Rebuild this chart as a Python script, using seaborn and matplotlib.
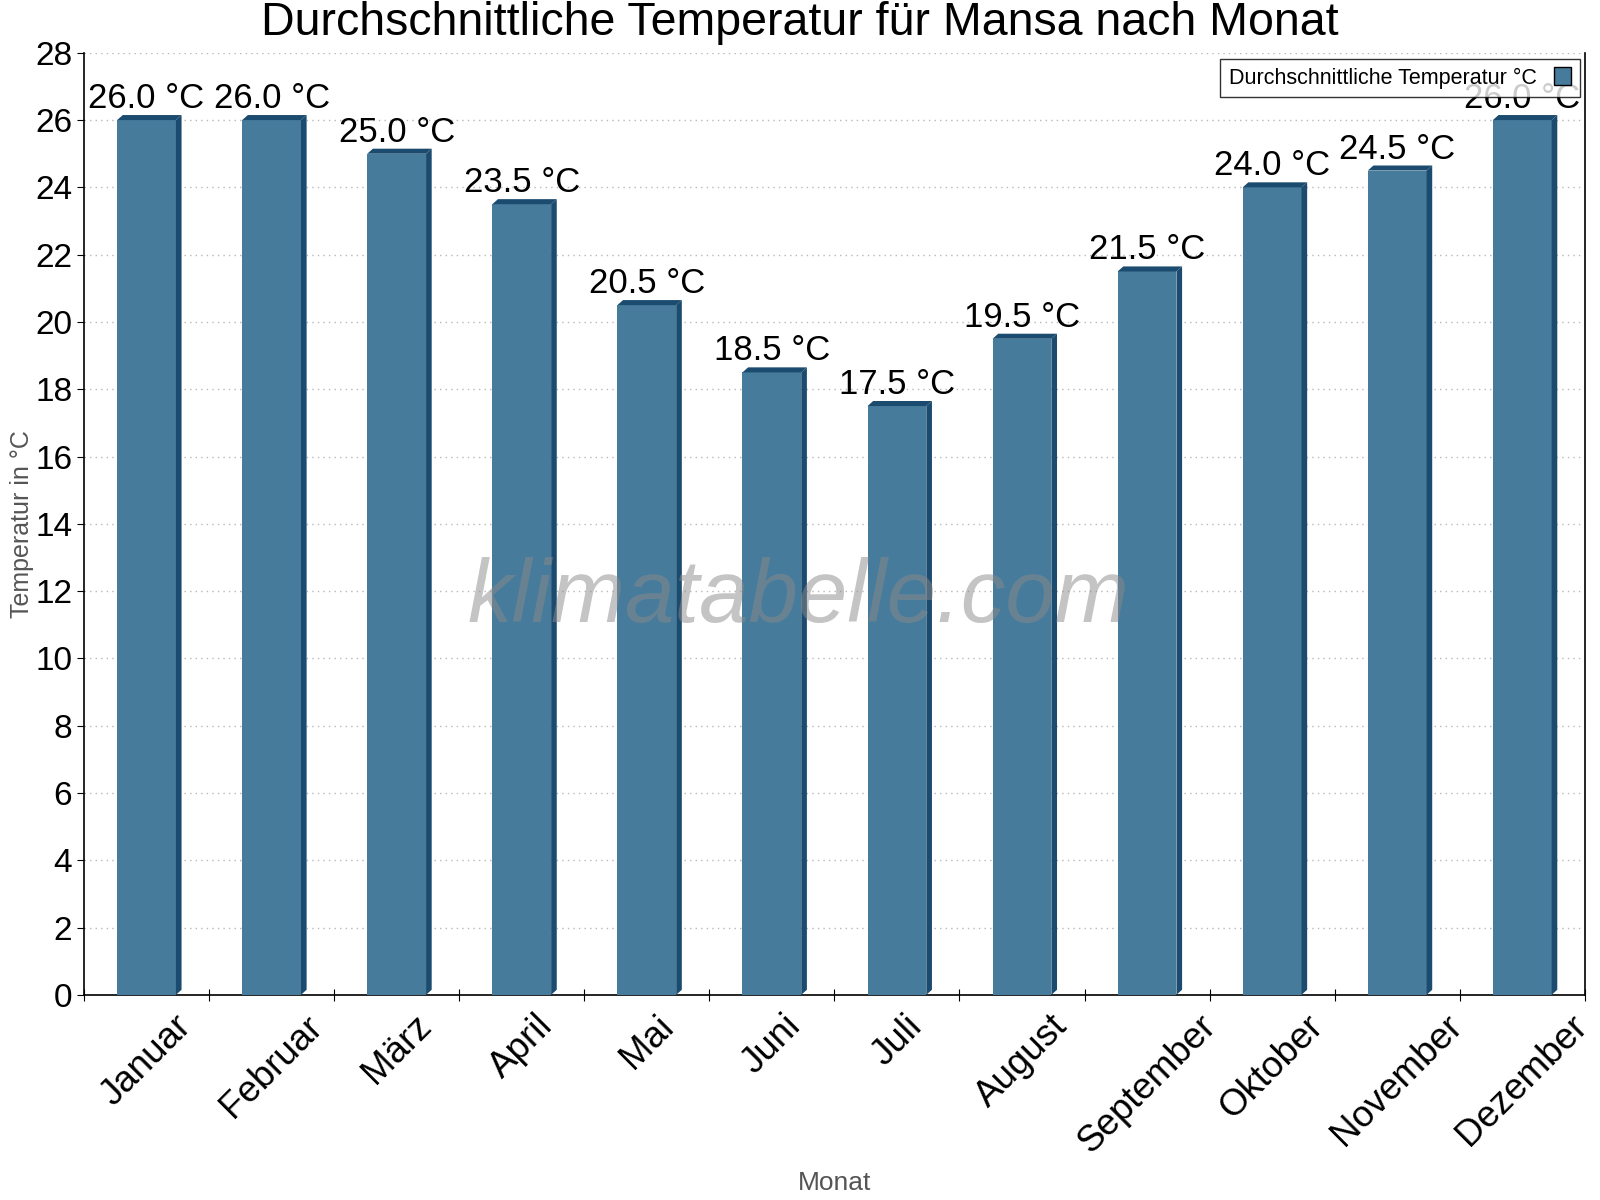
import numpy as np
import pandas as pd
import seaborn as sns
from matplotlib import pyplot as plt
from matplotlib.patches import Polygon

months = ["Januar", "Februar", "März", "April", "Mai", "Juni", "Juli",
          "August", "September", "Oktober", "November", "Dezember"]
temps = [26.0, 26.0, 25.0, 23.5, 20.5, 18.5, 17.5, 19.5, 21.5, 24.0, 24.5, 26.0]
yticks = list(range(0, 30, 2))

front = "#467b9c"
side = "#1b4b6e"

sns.set_style("white", rc={"text.color": "black", "xtick.color": "black",
                           "ytick.color": "black", "axes.labelcolor": "#555555"})
plt.rcParams['font.family'] = ['Liberation Sans', 'DejaVu Sans']

df = pd.DataFrame({"Monat": months, "Temperatur": temps})

fig = plt.figure(figsize=(16, 12), dpi=100)
ax = fig.add_axes([0.0525, 0.171, 0.938, 0.785])

sns.barplot(data=df, x="Monat", y="Temperatur", color=front, saturation=1,
            width=0.47, ax=ax, label="Durchschnittliche Temperatur °C",
            edgecolor="none", zorder=3)

# fake 3d depth on each bar
dx, dy = 0.045, 0.15
for p in ax.patches:
    x0, w, h = p.get_x(), p.get_width(), p.get_height()
    ax.add_patch(Polygon([(x0 + w, 0), (x0 + w, h), (x0 + w + dx, h + dy),
                          (x0 + w + dx, dy)], closed=True, color=side, zorder=3, lw=0))
    ax.add_patch(Polygon([(x0, h), (x0 + dx, h + dy), (x0 + w + dx, h + dy),
                          (x0 + w, h)], closed=True, color=side, zorder=3, lw=0))
    ax.annotate(f"{h:.1f} °C", (x0 + w / 2, h + dy), xytext=(0, 0),
                textcoords="offset points", ha="center", va="bottom",
                fontsize=25, color="black", zorder=4)

ax.set_xlim(-0.5, 11.5)
ax.set_ylim(0, 28)
ax.set_yticks(yticks)
ax.tick_params(axis="y", labelsize=24, length=5, direction="out", left=True,
               labelcolor="black")

# tick marks between the months, names centred under the bars
ax.set_xticks(np.arange(-0.5, 12, 1.0))
ax.set_xticklabels([])
ax.set_xticks(range(len(months)), minor=True)
ax.set_xticklabels(months, minor=True, rotation=45, ha="center", va="top",
                   fontsize=26.5)
ax.tick_params(axis="x", which="major", length=9, direction="inout", bottom=True)
ax.tick_params(axis="x", which="minor", length=0, pad=10, bottom=True,
               labelcolor="black")

ax.grid(axis="y", linestyle=(0, (1, 3)), color="#b8b8b8", lw=1, zorder=0)
ax.grid(axis="x", visible=False)
ax.spines["top"].set_visible(False)
for s in ["left", "bottom", "right"]:
    ax.spines[s].set_color("black")
    ax.spines[s].set_linewidth(1.2)

ax.set_xlabel("Monat", fontsize=19, color="#555555")
ax.xaxis.set_label_coords(0.5, -0.187)
ax.set_ylabel("Temperatur in °C", fontsize=18, color="#555555")
ax.yaxis.set_label_coords(-0.033, 0.5)
fig.text(0.5, 0.981, "Durchschnittliche Temperatur für Mansa nach Monat",
         fontsize=33.5, ha="center", va="center", color="black")

ax.text(0.476, 0.42, "klimatabelle.com", transform=ax.transAxes, fontsize=64,
        style="italic", color="#8a8a8a", alpha=0.5, ha="center", va="center", zorder=5)

leg = ax.legend(loc="upper right", fontsize=15.5, markerfirst=False, frameon=True,
                fancybox=False, edgecolor="black", handlelength=0.8, handleheight=0.9,
                borderpad=0.4, borderaxespad=0, bbox_to_anchor=(0.9967, 0.9936))
leg.get_frame().set_linewidth(1.0)
leg.set_zorder(6)
for h in leg.legend_handles:
    h.set_edgecolor("black")
    h.set_linewidth(1)

fig.savefig("out.png", dpi=100)
